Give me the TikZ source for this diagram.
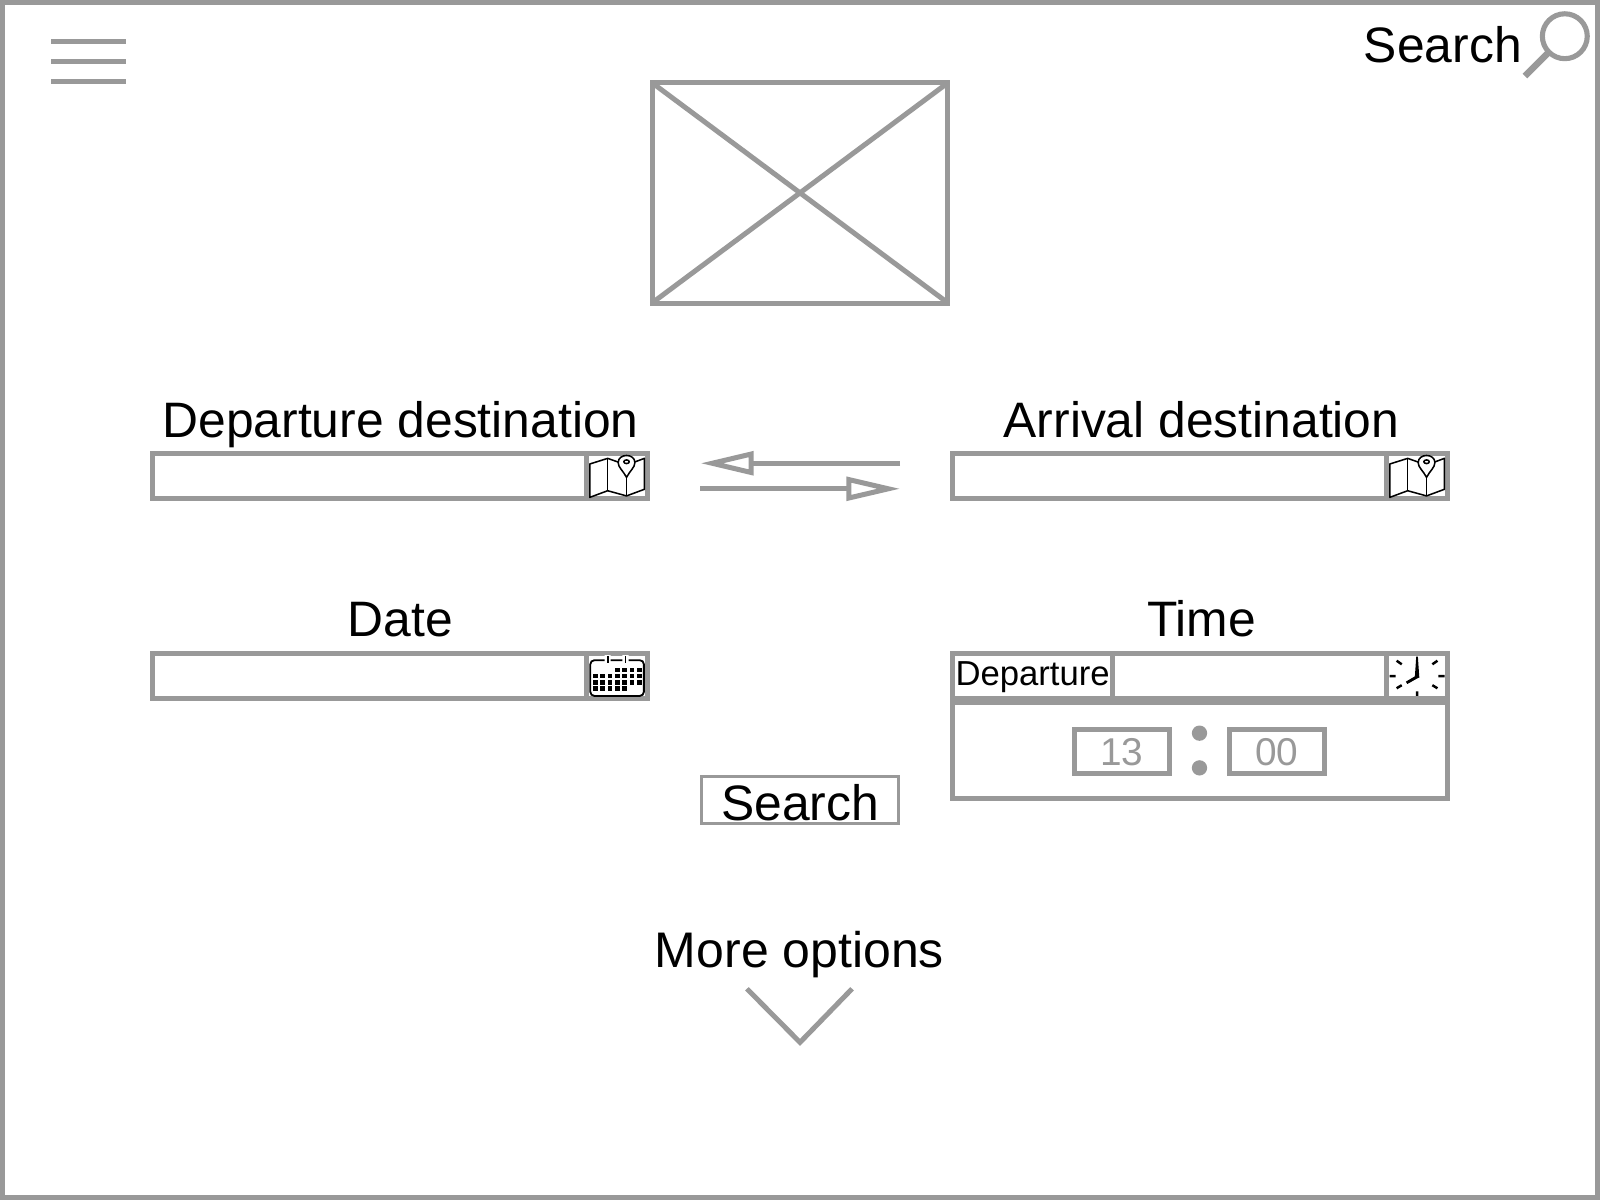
\documentclass[tikz,border=0pt]{standalone}
\usepackage{fontspec}
\setmainfont{Liberation Sans}
\usetikzlibrary{calc}
\definecolor{wgray}{HTML}{999999}
\tikzset{
  wire/.style={draw=wgray,line width=4.9pt},
  thinwire/.style={draw=wgray,line width=3pt},
  ico/.style={draw=black,line width=1.5pt,line join=round},
  lbl/.style={font=\fontsize{48.8}{48.8}\selectfont,text=black,inner sep=0pt,anchor=base},
  boxn/.style={wire,fill=white,inner sep=0pt,outer sep=0pt,minimum width=485pt,minimum height=44pt},
  timebox/.style={wire,text=wgray,inner sep=0pt,outer sep=0pt,minimum width=92.5pt,minimum height=43.6pt},
  dotn/.style={fill=wgray,circle,minimum size=15pt,inner sep=0pt},
  digits/.style={font=\fontsize{38}{38}\selectfont,text=wgray,inner sep=0pt,anchor=base},
}
\newcommand{\mapicon}[2]{%
  \begin{scope}[shift={(#1,#2)}]
    \draw[ico] (0,7.7)--(17.5,2.2)--(36,8.7)--(53.5,2.2)--(53.5,32.5)--(36,39)--(17.5,33.9)--(0,40.4)--cycle;
    \draw[ico] (17.5,2.2)--(17.5,33.9);
    \draw[ico] (36,20.8)--(36,39);
    \draw[ico,fill=white] (36,20.8) .. controls (32.8,14.5) and (27.8,11) .. (27.8,6.4) .. controls (27.8,-3) and (44.2,-3) .. (44.2,6.4) .. controls (44.2,11) and (39.2,14.5) .. (36,20.8) -- cycle;
    \draw[ico] (36,5.5) ellipse (2.7pt and 1.8pt);
  \end{scope}}
\begin{document}
\begin{tikzpicture}[x=1pt,y=-1pt]
\useasboundingbox (0,0) rectangle (1568,1176);
\fill[white] (0,0) rectangle (1568,1176);
\draw[wire] (2.5,2.5) rectangle (1565.5,1173.5);
% menu
\draw[wire] (50,40.5)--(123.5,40.5) (50,60)--(123.5,60) (50,79.5)--(123.5,79.5);
% image placeholder
\node[wire,minimum width=290pt,minimum height=216pt,inner sep=0pt,outer sep=0pt] (img) at (784,189) {};
\draw[wire] ($(img.north west)+(1.5,1.2)$)--($(img.south east)+(-1.5,-1.2)$) ($(img.north east)+(-1.5,1.2)$)--($(img.south west)+(1.5,-1.2)$);
% search
\node[lbl] (stxt) at (1414,61.5) {Search};
\node[draw=wgray,line width=5pt,circle,minimum size=44pt,inner sep=0pt,outer sep=0pt] (lens) at (1533.5,35.5) {};
\coordinate (hnd) at (1494.5,74.5);
\draw[draw=wgray,line width=6.5pt] (lens.225)--(hnd);
% labels
\node[lbl] (l1) at (392.5,428.5) {Departure destination};
\node[lbl] (l2) at (1177.5,428.5) {Arrival destination};
\node[lbl] (l3) at (392.5,624) {Date};
\node[lbl] (l4) at (1177.5,624) {Time};
\node[lbl,font=\fontsize{49}{49}\selectfont] (l5) at (783.5,948) {More options};
% fields
\node[boxn] (f1) at (392,466.5) {};
\draw[wire] (575,444)--(575,489);
\mapicon{578}{447}
\node[boxn] (f2) at (1176,466.5) {};
\draw[wire] (1359,444)--(1359,489);
\mapicon{1362}{447}
\node[boxn] (f3) at (392,662.5) {};
\draw[wire] (575,640)--(575,685);
% calendar
\draw[draw=black,line width=1.8pt,rounded corners=4pt] (578.5,647) rectangle (631,682);
\fill[white] (592.5,642) rectangle (598.5,650) (610,642) rectangle (616,650);
\draw[draw=black,line width=1.8pt] (595.5,643)--(595.5,649.5) (613,643)--(613,649.5);
\foreach \yy/\first/\last in {654.4/3/6,660.4/0/6,666.4/0/6,672.4/0/4}{
  \foreach \i in {\first,...,\last}{
    \fill[black] ({581+\i*7.2},\yy) rectangle ({585.6+\i*7.2},{\yy+4.5});
  }}
% time
\node[boxn] (f4) at (1176,662.5) {};
\node[wire,fill=white,inner sep=0pt,outer sep=0pt,minimum width=485pt,minimum height=94pt] (panel) at (1176,735.5) {};
\draw[wire] (1090,640)--(1090,685);
\draw[wire] (1359,640)--(1359,685);
\node[font=\fontsize{34}{34}\selectfont,inner sep=0pt,anchor=base] (dep) at (1012,672) {Departure};
% clock
\begin{scope}[shift={(1388.7,662.5)}]
  \draw[black,line width=2.4pt] (-27,0)--(-21,0) (21,0)--(27,0) (0,15)--(0,19.5)
    (-20,-15)--(-15,-11.5) (20,-15)--(15,-11.5) (-20,12)--(-15,9) (20,12)--(15,9);
  \fill[black] (-2.2,1.5)--(2.2,1.5)--(0.8,-19)--(-0.8,-19)--cycle;
  \fill[black] (1.5,-1.8)--(2,1.3)--(-9.5,7.8)--(-11,5.5)--cycle;
\end{scope}
\node[timebox] (h) at (1099.5,736.3) {};
\node[digits] (ht) at (1099.5,750) {13};
\node[timebox] (m) at (1251.4,736.3) {};
\node[digits] (mt) at (1251.4,750) {00};
\node[dotn] (d1) at (1175.5,718.5) {};
\node[dotn] (d2) at (1175.5,752.5) {};
% swap arrows
\coordinate (a1) at (882,454);
\coordinate (a2) at (736,454);
\coordinate (b1) at (686,479);
\coordinate (b2) at (832,479);
\draw[wire] (a1)--(a2);
\draw[wire,line join=miter] (a2)++(0,-9)--(698,454)--(736,463)--cycle;
\draw[wire] (b1)--(b2);
\draw[wire,line join=miter] (b2)++(0,-9)--(870.5,479)--(832,488)--cycle;
% button
\node[thinwire,minimum width=193.5pt,minimum height=46pt,inner sep=0pt,outer sep=0pt] (btn) at (784,784) {};
\node[lbl] (btxt) at (784,804) {Search};
% chevron
\coordinate (c1) at (732,969);
\coordinate (c2) at (784,1021.5);
\coordinate (c3) at (835,969);
\draw[wire] (c1)--(c2)--(c3);
\end{tikzpicture}
\end{document}
